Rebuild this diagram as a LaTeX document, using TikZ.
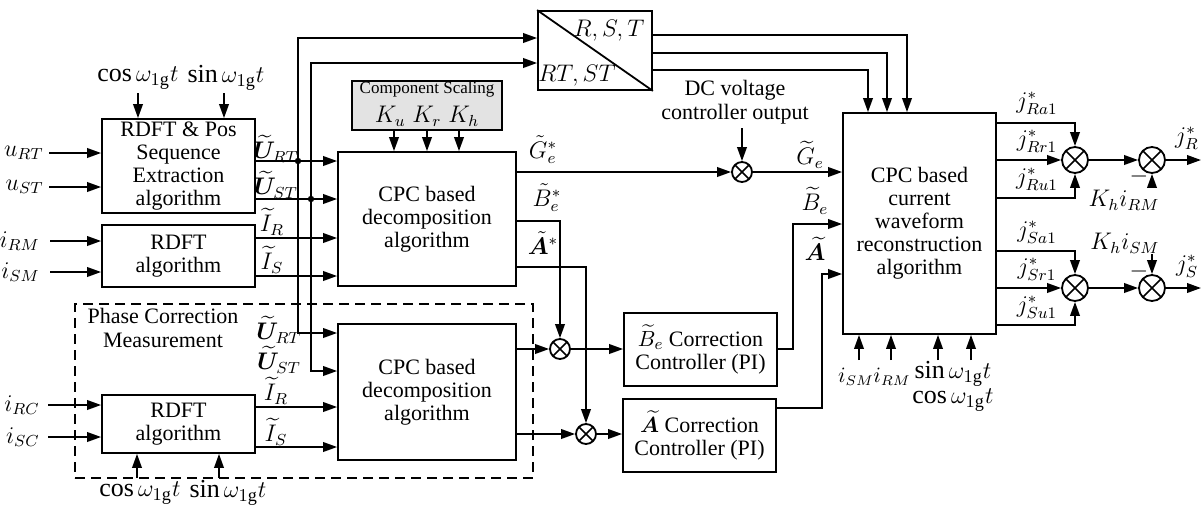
\documentclass[tikz,border=0pt]{standalone}
\usepackage{fontspec}
\usepackage{amsmath}
\usepackage{bm}
\setmainfont{Liberation Serif}
\usetikzlibrary{arrows.meta,calc}
\tikzset{
  wire/.style={line width=0.9pt},
  arr/.style={wire,-{Triangle[length=7pt,width=4.8pt]}},
  blk/.style={draw,line width=0.9pt,align=center,inner sep=1pt,font=\fontsize{11}{11.5}\selectfont},
  sumA/.style={circle,draw,line width=0.9pt,minimum size=10pt,inner sep=0pt,
    path picture={\draw[line width=0.8pt] (path picture bounding box.north west)--(path picture bounding box.south east)
      (path picture bounding box.north east)--(path picture bounding box.south west);}},
  sumB/.style={sumA,minimum size=13pt},
  lab/.style={font=\fontsize{12}{13}\selectfont,inner sep=0pt},
  slab/.style={font=\fontsize{10.5}{12}\selectfont,inner sep=0pt},
  big/.style={font=\fontsize{13}{14}\selectfont,inner sep=1pt},
  txt/.style={font=\fontsize{11}{12}\selectfont,align=center,inner sep=0pt},
  jdot/.style={circle,fill,inner sep=0pt,minimum size=3.2pt},
  frame/.style={draw,line width=0.9pt,dash pattern=on 5pt off 3pt}
}
\begin{document}
\begin{tikzpicture}[x=0.5pt,y=-0.5pt]
\useasboundingbox (0,0) rectangle (1201,510);

% dashed group frame
\node[frame,minimum width=229pt,minimum height=87pt] (pcm) at (304,391) {};
\node[txt] (pcmt) at (163,328) {Phase Correction\\Measurement};

% blocks
\node[blk,minimum width=76.5pt,minimum height=47pt] (b1) at (178.5,166) {RDFT \& Pos\\Sequence\\Extraction\\algorithm};
\node[blk,minimum width=76.5pt,minimum height=31pt] (b2) at (178.5,256) {RDFT\\algorithm};
\node[blk,minimum width=76.5pt,minimum height=29pt] (b3) at (178.5,424) {RDFT\\algorithm};
\node[blk,minimum width=89pt,minimum height=67pt] (c1) at (427,219) {CPC based\\decomposition\\algorithm};
\node[blk,minimum width=89pt,minimum height=68pt] (c2) at (427,392) {CPC based\\decomposition\\algorithm};
\node[blk,fill=gray!22,minimum width=75pt,minimum height=24.5pt] (cs) at (427,105.5) {};
\node[font=\fontsize{8.5}{10}\selectfont,inner sep=0pt] (cst) at (427,89) {Component Scaling};
\node[lab] (csk) at (427,116) {$K_u\;K_r\;K_h$};
\node[blk,minimum width=57pt,minimum height=39.5pt] (rst) at (595,50.5) {};
\draw[wire] (rst.north west) -- (rst.south east);
\node[lab] (rstA) at (609,31) {$R,S,T$};
\node[lab] (rstB) at (577,76) {$RT,ST$};
\node[blk,minimum width=76.5pt,minimum height=110.5pt] (bigb) at (919.5,223.5) {CPC based\\current\\waveform\\reconstruction\\algorithm};
\node[blk,minimum width=76.5pt,minimum height=36.5pt] (bc) at (700.5,349.5) {$\widetilde{B}_e$ Correction\\Controller (PI)};
\node[blk,minimum width=76.5pt,minimum height=36.5pt] (ac) at (699.5,435.5) {$\widetilde{\bm A}$ Correction\\Controller (PI)};

% summing junctions
\node[sumA] (s1) at (742,172) {};
\node[sumA] (s2) at (560,349) {};
\node[sumA] (s3) at (586,434) {};
\node[sumB] (r1) at (1075,160) {};
\node[sumB] (r2) at (1152,160) {};
\node[sumB] (q1) at (1075,288) {};
\node[sumB] (q2) at (1152,288) {};

% junction dots and corners
\node[jdot] (d1) at (298,161) {};
\node[jdot] (d2) at (311,199) {};
\coordinate (t1) at (298,38);
\coordinate (t2) at (311,63);
\coordinate (l1) at (298,333);
\coordinate (l2) at (311,371);
\coordinate (oR) at (1201,160);
\coordinate (oS) at (1201,288);

% left inputs
\node[lab,anchor=east] (uRT) at (44,153) {$u_{RT}$};
\node[lab,anchor=east] (uST) at (44,187) {$u_{ST}$};
\node[lab,anchor=east] (iRM) at (40,241) {$i_{RM}$};
\node[lab,anchor=east] (iSM) at (40,272) {$i_{SM}$};
\node[lab,anchor=east] (iRC) at (40,405) {$i_{RC}$};
\node[lab,anchor=east] (iSC) at (40,437) {$i_{SC}$};
\draw[arr] ([xshift=2.5pt]uRT.east) -- (b1.west |- uRT.east);
\draw[arr] ([xshift=2.5pt]uST.east) -- (b1.west |- uST.east);
\draw[arr] ([xshift=5pt]iRM.east) -- (b2.west |- iRM.east);
\draw[arr] ([xshift=5pt]iSM.east) -- (b2.west |- iSM.east);
\draw[arr] ([xshift=4pt]iRC.east) -- (b3.west |- iRC.east);
\draw[arr] ([xshift=4pt]iSC.east) -- (b3.west |- iSC.east);

% cos / sin
\node[big] (cosA) at (138,78) {$\cos\omega_{1\mathrm{g}}t$};
\node[big] (sinA) at (226,78) {$\sin\omega_{1\mathrm{g}}t$};
\draw[arr] (138,93) -- (b1.north -| 138,0);
\draw[arr] (224,93) -- (b1.north -| 224,0);
\node[big] (cosB) at (140,493) {$\cos\omega_{1\mathrm{g}}t$};
\node[big] (sinB) at (228,493) {$\sin\omega_{1\mathrm{g}}t$};
\draw[arr] (137,478) -- (b3.south -| 137,0);
\draw[arr] (219,478) -- (b3.south -| 219,0);

% outputs of the RDFT blocks
\node[lab] (UR1) at (276,149) {$\widetilde{\bm U}_{RT}$};
\node[lab] (US1) at (276,185) {$\widetilde{\bm U}_{ST}$};
\node[lab] (IR1) at (272,222) {$\widetilde{I}_{R}$};
\node[lab] (IS1) at (272,260) {$\widetilde{I}_{S}$};
\node[lab] (UR2) at (279,330) {$\widetilde{\bm U}_{RT}$};
\node[lab] (US2) at (279,360) {$\widetilde{\bm U}_{ST}$};
\node[lab] (IR2) at (276,391) {$\widetilde{I}_{R}$};
\node[lab] (IS2) at (276,432) {$\widetilde{I}_{S}$};

\draw[arr] (b1.east |- d1) -- (d1.center) -- (c1.west |- d1);
\draw[arr] (b1.east |- d2) -- (d2.center) -- (c1.west |- d2);
\draw[arr] (d1.center) -- (t1) -- (rst.west |- t1);
\draw[arr] (d2.center) -- (t2) -- (rst.west |- t2);
\draw[arr] (d1.center) -- (l1) -- (c2.west |- l1);
\draw[arr] (d2.center) -- (l2) -- (c2.west |- l2);
\draw[arr] (b2.east |- 0,238) -- (c1.west |- 0,238);
\draw[arr] (b2.east |- 0,276) -- (c1.west |- 0,276);
\draw[arr] (b3.east |- 0,407) -- (c2.west |- 0,407);
\draw[arr] (b3.east |- 0,447) -- (c2.west |- 0,447);

% component scaling
\draw[arr] (cs.south -| 394,0) -- (c1.north -| 394,0);
\draw[arr] (cs.south -| 427,0) -- (c1.north -| 427,0);
\draw[arr] (cs.south -| 459,0) -- (c1.north -| 459,0);

% R,S,T outputs
\draw[arr] (rst.east |- 0,35) -- (907,35) -- (bigb.north -| 907,0);
\draw[arr] (rst.east |- 0,53) -- (887,53) -- (bigb.north -| 887,0);
\draw[arr] (rst.east |- 0,70) -- (868,70) -- (bigb.north -| 868,0);

% decomposition outputs
\node[lab] (Gs) at (543,150) {$\tilde{G}_e^{*}$};
\node[lab] (Bs) at (547,198) {$\tilde{B}_e^{*}$};
\node[lab] (As) at (543,243) {$\tilde{\bm A}^{*}$};
\node[txt] (dc) at (735,102) {DC voltage\\controller output};
\draw[arr] (c1.east |- s1) -- (s1);
\draw[arr] (s1 |- 0,128) -- (s1);
\draw[arr] (s1) -- (bigb.west |- s1);
\draw[arr] (c1.east |- 0,221) -- (s2 |- 0,221) -- (s2);
\draw[arr] (c1.east |- 0,267) -- (s3 |- 0,267) -- (s3);
\draw[arr] (c2.east |- s2) -- (s2);
\draw[arr] (s2) -- (bc.west |- s2);
\draw[arr] (c2.east |- s3) -- (s3);
\draw[arr] (s3) -- (ac.west |- s3);
\draw[arr] (bc.east |- 0,349) -- (793,349) -- (793,224) -- (bigb.west |- 0,224);
\draw[arr] (ac.east |- 0,408) -- (822,408) -- (822,274) -- (bigb.west |- 0,274);
\node[lab] (Ge) at (810,155) {$\widetilde{G}_e$};
\node[lab] (Be) at (815,201) {$\widetilde{B}_e$};
\node[lab] (Ae) at (815,249) {$\widetilde{\bm A}$};

% bottom inputs of the reconstruction block
\node[slab] (iSMb) at (856,377) {$i_{SM}$};
\node[slab] (iRMb) at (892,377) {$i_{RM}$};
\node[big] (sinC) at (953,374) {$\sin\omega_{1\mathrm{g}}t$};
\node[big] (cosC) at (953,400) {$\cos\omega_{1\mathrm{g}}t$};
\draw[arr] (859,360) -- (bigb.south -| 859,0);
\draw[arr] (891,360) -- (bigb.south -| 891,0);
\draw[arr] (938,360) -- (bigb.south -| 938,0);
\draw[arr] (971,360) -- (bigb.south -| 971,0);

% right side: R phase
\node[lab] (jRa) at (1037,103) {$j^{*}_{Ra1}$};
\node[lab] (jRr) at (1037,141) {$j^{*}_{Rr1}$};
\node[lab] (jRu) at (1037,179) {$j^{*}_{Ru1}$};
\draw[arr] (bigb.east |- 0,123) -- (r1 |- 0,123) -- (r1);
\draw[arr] (bigb.east |- r1) -- (r1);
\draw[arr] (bigb.east |- 0,198) -- (r1 |- 0,198) -- (r1);
\draw[arr] (r1) -- (r2);
\draw[arr] (r2) -- (oR);
\draw[arr] (r2 |- 0,187) -- (r2);
\node[lab] (khR) at (1124,200) {$K_h i_{RM}$};
\node[lab] (mR) at (1139,176) {$-$};
\node[lab] (jR) at (1187,138) {$j^{*}_{R}$};

% right side: S phase
\node[lab] (jSa) at (1037,232) {$j^{*}_{Sa1}$};
\node[lab] (jSr) at (1037,269) {$j^{*}_{Sr1}$};
\node[lab] (jSu) at (1037,307) {$j^{*}_{Su1}$};
\draw[arr] (bigb.east |- 0,251) -- (q1 |- 0,251) -- (q1);
\draw[arr] (bigb.east |- q1) -- (q1);
\draw[arr] (bigb.east |- 0,325) -- (q1 |- 0,325) -- (q1);
\draw[arr] (q1) -- (q2);
\draw[arr] (q2) -- (oS);
\draw[arr] (q2 |- 0,254) -- (q2);
\node[lab] (khS) at (1125,243) {$K_h i_{SM}$};
\node[lab] (mS) at (1139,271) {$-$};
\node[lab] (jS) at (1187,266) {$j^{*}_{S}$};
\end{tikzpicture}
\end{document}
